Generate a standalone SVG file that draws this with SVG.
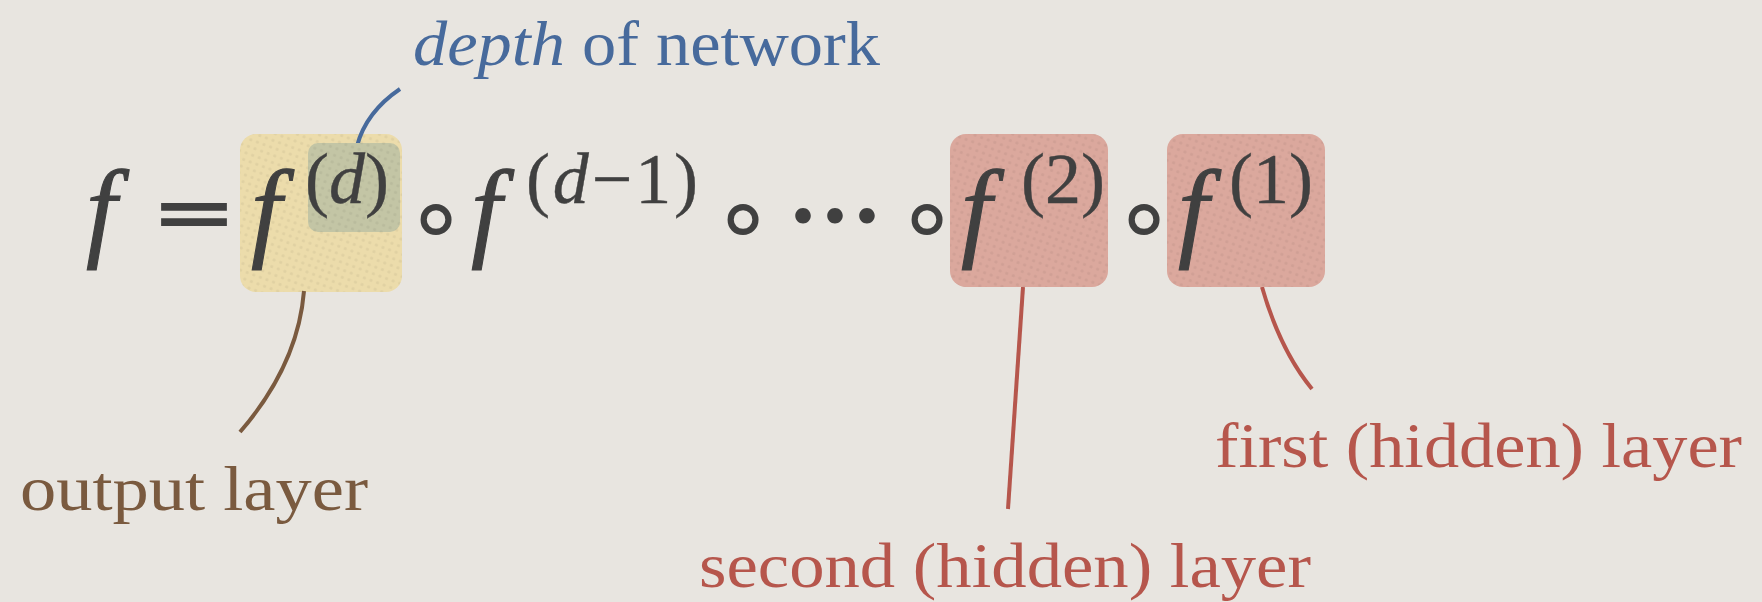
<svg xmlns="http://www.w3.org/2000/svg" width="1762" height="602" viewBox="0 0 1762 602">
  <defs>
    <pattern id="dots" width="7" height="7" patternUnits="userSpaceOnUse" patternTransform="rotate(20)">
      <circle cx="3.5" cy="3.5" r="1.6" fill="#000" fill-opacity="0.05"/>
    </pattern>
  </defs>
  <style>
    .math { font-family: "Liberation Serif", "Times New Roman", serif; fill: #404040; stroke: #404040; stroke-width: 0.4; }
    .fn { font-family: "Liberation Serif", "Times New Roman", serif; font-style: italic; font-size: 110px; fill: #404040; stroke: #404040; stroke-width: 1.1; }
    .it { font-style: italic; }
    .op { font-family: "DejaVu Sans", sans-serif; fill: #404040; }
    .dots { font-family: "Noto Sans CJK JP", "DejaVu Sans", sans-serif; font-weight: bold; fill: #404040; }
    .lbl { font-family: "Liberation Serif", serif; font-size: 64px; }
    .conn { fill: none; stroke-width: 4; stroke-linecap: butt; }
  </style>
  <rect x="0" y="0" width="1762" height="602" fill="#e8e5e0"/>

  <g id="out-box">
    <rect x="240" y="134" width="162" height="158" rx="16" fill="#ecdcab"/>
    <rect x="240" y="134" width="162" height="158" rx="16" fill="url(#dots)"/>
  </g>

  <g id="connectors">
    <path class="conn" d="M400,89 Q366,112 357,146" stroke="#476a9c"/>
    <path class="conn" d="M304,291 Q298,365 240,432" stroke="#7a5a3f"/>
    <path class="conn" d="M1023,287 L1008,509" stroke="#b6564c"/>
    <path class="conn" d="M1262,287 Q1280,350 1312,389" stroke="#b6564c"/>
  </g>

  <g id="depth-box">
    <rect x="308" y="143" width="92" height="89" rx="10" fill="#c3c5a5"/>
    <rect x="308" y="143" width="92" height="89" rx="10" fill="url(#dots)"/>
  </g>
  <g id="hidden2-box">
    <rect x="950" y="134" width="158" height="153" rx="16" fill="#dba89d"/>
    <rect x="950" y="134" width="158" height="153" rx="16" fill="url(#dots)"/>
  </g>
  <g id="hidden1-box">
    <rect x="1167" y="134" width="158" height="153" rx="16" fill="#dba89d"/>
    <rect x="1167" y="134" width="158" height="153" rx="16" fill="url(#dots)"/>
  </g>

  <g id="equation">
    <text class="fn" x="86" y="247">f</text>
    <text class="op" font-weight="bold" font-size="100" text-anchor="middle" transform="translate(194,236) scale(1.05,0.68)">=</text>
    <text class="fn" x="251" y="247">f</text>
    <text class="math" x="305" y="203" font-size="72">(<tspan class="it">d</tspan>)</text>
    <text class="op" x="436" y="251" font-size="100" text-anchor="middle">∘</text>
    <text class="fn" x="471" y="247">f</text>
    <text class="math" x="526" y="203" font-size="72" textLength="172" lengthAdjust="spacing">(<tspan class="it">d</tspan>−1)</text>
    <text class="op" x="743" y="251" font-size="100" text-anchor="middle">∘</text>
    <text class="dots" x="835" y="252" font-size="96" text-anchor="middle">⋯</text>
    <text class="op" x="927" y="251" font-size="100" text-anchor="middle">∘</text>
    <text class="fn" x="961" y="247">f</text>
    <text class="math" x="1021" y="203" font-size="72">(2)</text>
    <text class="op" x="1144" y="251" font-size="100" text-anchor="middle">∘</text>
    <text class="fn" x="1178" y="247">f</text>
    <text class="math" x="1229" y="203" font-size="72">(1)</text>
  </g>

  <g id="label-depth">
    <text class="lbl" x="413" y="65" fill="#476a9c" textLength="467" lengthAdjust="spacingAndGlyphs"><tspan font-style="italic">depth</tspan> of network</text>
  </g>
  <g id="label-output">
    <text class="lbl" x="20" y="510" fill="#7a5a3f" textLength="348" lengthAdjust="spacingAndGlyphs">output layer</text>
  </g>
  <g id="label-second">
    <text class="lbl" x="699" y="587" fill="#b6564c" textLength="612" lengthAdjust="spacingAndGlyphs">second (hidden) layer</text>
  </g>
  <g id="label-first">
    <text class="lbl" x="1215" y="467" fill="#b6564c" textLength="527" lengthAdjust="spacingAndGlyphs">first (hidden) layer</text>
  </g>
</svg>
